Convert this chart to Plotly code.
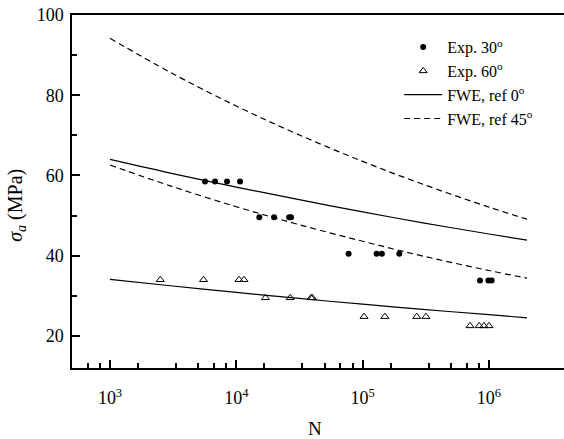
import plotly.graph_objects as go

# Experimental data: 30 deg (filled circles)
n_exp30 = [5650, 6780, 8440, 10700, 15200, 19900, 26200, 27100,
           77400, 129000, 142000, 195000, 849000, 989000, 1050000]
s_exp30 = [58.5, 58.5, 58.5, 58.5, 49.6, 49.6, 49.6, 49.6,
           40.5, 40.5, 40.5, 40.5, 33.8, 33.8, 33.8]

# Experimental data: 60 deg (open triangles)
n_exp60 = [2500, 5500, 10500, 11500, 17000, 26700, 39000, 40000,
           102600, 150000, 268000, 317000, 708000, 837000, 912000, 1000000]
s_exp60 = [34.0, 34.0, 34.0, 34.0, 29.5, 29.5, 29.5, 29.5,
           24.8, 24.8, 24.8, 24.8, 22.5, 22.5, 22.5, 22.5]

# FWE prediction curves
n_curve = [1000, 3000, 10000, 30000, 100000, 300000, 1000000, 2000000]
fwe0_30 = [64.0, 60.6, 57.1, 54.1, 50.9, 48.2, 45.4, 43.9]
fwe45_30 = [94.2, 85.7, 77.3, 70.4, 63.5, 57.8, 52.1, 49.1]
fwe0_60 = [34.1, 32.5, 30.85, 29.4, 27.9, 26.6, 25.3, 24.5]
fwe45_60 = [62.6, 57.4, 52.2, 47.9, 43.6, 39.9, 36.3, 34.4]

FONT = "Liberation Serif"
BLACK = "#000000"

fig = go.Figure()
fig.add_trace(go.Scatter(x=n_exp30, y=s_exp30, mode="markers", name="Exp. 30<sup>o</sup>",
                         marker=dict(symbol="circle", size=6, color=BLACK)))
fig.add_trace(go.Scatter(x=n_exp60, y=s_exp60, mode="markers", name="Exp. 60<sup>o</sup>",
                         marker=dict(symbol="triangle-up-open", size=7, color=BLACK,
                                     line=dict(width=1, color=BLACK))))
fig.add_trace(go.Scatter(x=n_curve, y=fwe0_30, mode="lines", name="FWE, ref 0<sup>o</sup>",
                         line=dict(color=BLACK, width=1.2), line_shape="spline"))
fig.add_trace(go.Scatter(x=n_curve, y=fwe45_30, mode="lines", name="FWE, ref 45<sup>o</sup>",
                         line=dict(color=BLACK, width=1.2, dash="6px,4px"), line_shape="spline"))
fig.add_trace(go.Scatter(x=n_curve, y=fwe0_60, mode="lines", showlegend=False,
                         line=dict(color=BLACK, width=1.2), line_shape="spline"))
fig.add_trace(go.Scatter(x=n_curve, y=fwe45_60, mode="lines", showlegend=False,
                         line=dict(color=BLACK, width=1.2, dash="6px,4px"), line_shape="spline"))

minor_x = [k * 10 ** n / 6 for n in range(2, 7) for k in range(1, 6)]

fig.update_layout(
    width=564, height=439,
    margin=dict(l=72, r=0, t=15, b=71),
    paper_bgcolor="white", plot_bgcolor="white",
    font=dict(family=FONT, size=18, color=BLACK),
    showlegend=True,
    legend=dict(x=0.665, y=0.957, xanchor="left", yanchor="top",
                bgcolor="rgba(0,0,0,0)", borderwidth=0,
                font=dict(family=FONT, size=16, color=BLACK),
                itemwidth=38, tracegroupgap=0),
    xaxis=dict(
        type="log", range=[2.699, 6.594],
        tickvals=[1e3, 1e4, 1e5, 1e6],
        ticktext=["10<sup>3</sup>", "10<sup>4</sup>", "10<sup>5</sup>", "10<sup>6</sup>"],
        ticks="inside", ticklen=8, tickwidth=1.5, tickcolor=BLACK,
        ticklabelstandoff=13,
        showline=True, linewidth=1.5, linecolor=BLACK, mirror=True,
        showgrid=False, zeroline=False,
        minor=dict(tickmode="array", tickvals=minor_x, ticks="inside",
                   ticklen=5, tickwidth=1.5, tickcolor=BLACK, showgrid=False),
        tickfont=dict(family=FONT, size=18),
    ),
    yaxis=dict(
        range=[12, 100],
        tickvals=[20, 40, 60, 80, 100],
        ticks="inside", ticklen=8, tickwidth=1.5, tickcolor=BLACK,
        ticklabelstandoff=3,
        showline=True, linewidth=1.5, linecolor=BLACK, mirror=False,
        showgrid=False, zeroline=False,
        minor=dict(tickmode="array", tickvals=[30, 50, 70, 90], ticks="inside",
                   ticklen=5, tickwidth=1.5, tickcolor=BLACK, showgrid=False),
        tickfont=dict(family=FONT, size=18),
    ),
    annotations=[
        dict(text="N", xref="paper", yref="paper", x=0.4939, y=-0.17,
             xanchor="center", yanchor="middle", showarrow=False,
             font=dict(family=FONT, size=19, color=BLACK)),
        dict(text="<i>σ</i><sub><i>a</i></sub> (MPa)", xref="paper", yref="paper",
             x=-0.112, y=0.462, textangle=-90,
             xanchor="center", yanchor="middle", showarrow=False,
             font=dict(family=FONT, size=20, color=BLACK)),
    ],
)

fig.write_html("out.html")
